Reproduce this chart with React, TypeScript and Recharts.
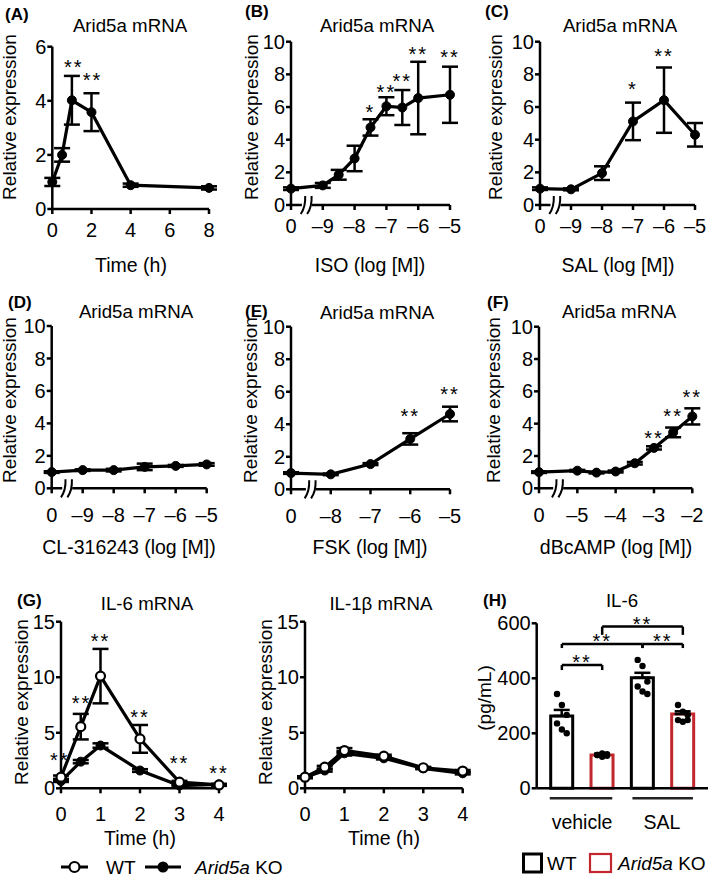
import React from 'react';
import {
  ComposedChart,
  Line,
  Bar,
  Scatter,
  XAxis,
  YAxis,
  ErrorBar,
  ReferenceDot,
  ReferenceLine,
  Cell,
} from 'recharts';

const FONT = "'Liberation Sans', Arial, Helvetica, sans-serif";
const PW = 709;
const PH = 876;
const YW = 40;
const XH = 30;
const RED = '#c1272d';

// ---------------- data ----------------
// (A) Arid5a mRNA time course
const timeA = [0, 0.5, 1, 2, 4, 8];
const arid5aTimeMean = [1.0, 2.0, 4.02, 3.58, 0.88, 0.78];
const arid5aTimeSem = [0.15, 0.25, 0.9, 0.7, 0.06, 0.06];
const starsA = [
  { x: 1.1, y: 5.4, t: '**' },
  { x: 2.05, y: 4.9, t: '**' },
];

// (B) ISO  (0 = vehicle)
const isoDose = [0, -9, -8.5, -8, -7.5, -7, -6.5, -6, -5];
const isoMean = [1.0, 1.2, 1.85, 2.85, 4.75, 6.05, 5.97, 6.55, 6.75];
const isoSem = [0.08, 0.15, 0.3, 0.78, 0.5, 0.55, 1.07, 2.22, 1.72];
const starsB = [
  { x: -7.5, y: 5.92, t: '*' },
  { x: -7, y: 7.14, t: '**' },
  { x: -6.5, y: 7.82, t: '**' },
  { x: -6, y: 9.49, t: '**' },
  { x: -5, y: 9.29, t: '**' },
];

// (C) SAL
const salDose = [0, -9, -8, -7, -6, -5];
const salMean = [1.0, 0.96, 1.95, 5.12, 6.42, 4.3];
const salSem = [0.08, 0.06, 0.42, 1.15, 2.0, 0.72];
const starsC = [
  { x: -7, y: 7.35, t: '*' },
  { x: -6, y: 9.39, t: '**' },
];

// (D) CL-316243
const clDose = [0, -9, -8, -7, -6, -5];
const clMean = [1.0, 1.12, 1.12, 1.32, 1.38, 1.47];
const clSem = [0.05, 0.05, 0.08, 0.2, 0.06, 0.08];

// (E) FSK
const fskDose = [0, -8, -7, -6, -5];
const fskMean = [1.0, 0.92, 1.55, 3.1, 4.63];
const fskSem = [0.05, 0.05, 0.06, 0.35, 0.45];
const starsE = [
  { x: -6, y: 4.77, t: '**' },
  { x: -5, y: 6.1, t: '**' },
];

// (F) dBcAMP
const dbDose = [0, -5, -4.5, -4, -3.5, -3, -2.5, -2];
const dbMean = [1.0, 1.09, 0.97, 1.04, 1.55, 2.5, 3.46, 4.45];
const dbSem = [0.05, 0.05, 0.05, 0.06, 0.08, 0.1, 0.3, 0.5];
const starsF = [
  { x: -3, y: 3.34, t: '**' },
  { x: -2.5, y: 4.74, t: '**' },
  { x: -2, y: 5.92, t: '**' },
];

// (G) IL-6 mRNA / IL-1β mRNA
const timeG = [0, 0.5, 1, 2, 3, 4];
const il6WtMean = [1.0, 5.55, 10.1, 4.45, 0.55, 0.3];
const il6WtSem = [0.15, 1.15, 2.45, 1.25, 0.12, 0.08];
const il6KoMean = [0.65, 2.4, 3.85, 1.6, 0.25, 0.35];
const il6KoSem = [0.08, 0.15, 0.2, 0.12, 0.05, 0.05];
const starsG = [
  { x: -0.03, y: 2.9, t: '**' },
  { x: 0.52, y: 8.0, t: '**' },
  { x: 1, y: 13.65, t: '**' },
  { x: 2, y: 6.75, t: '**' },
  { x: 3, y: 2.6, t: '**' },
  { x: 4, y: 1.7, t: '**' },
];
const il1bWtMean = [1.0, 1.9, 3.4, 2.9, 1.85, 1.55];
const il1bWtSem = [0.08, 0.12, 0.22, 0.12, 0.08, 0.1];
const il1bKoMean = [1.0, 1.6, 3.15, 2.7, 1.8, 1.35];
const il1bKoSem = [0.08, 0.1, 0.2, 0.1, 0.08, 0.1];

// (H) IL-6 protein
const hGroups = ['WT vehicle', 'KO vehicle', 'WT SAL', 'KO SAL'];
const hGenotype = ['WT', 'KO', 'WT', 'KO'];
const il6Mean = [263, 121, 402, 270];
const il6Sem = [22, 5, 18, 10];
const il6Points = [
  [343, 303, 267, 236, 214, 200],
  [121, 127, 118, 121, 115, 124],
  [467, 445, 388, 370, 352, 343],
  [303, 279, 267, 248, 242, 248],
];
const hBrackets = [
  { from: 0, to: 1, y: 448, drop: 18, t: '**' },
  { from: 0, to: 2, y: 525, drop: 15, t: '**' },
  { from: 2, to: 3, y: 525, drop: 15, t: '**' },
  { from: 1, to: 3, y: 588, drop: 30, t: '**' },
];
const hTreatments = [
  { label: 'vehicle', from: -0.3, to: 1.25 },
  { label: 'SAL', from: 1.75, to: 3.25 },
];

// ---------------- helpers ----------------
type Pt = { x: number; y: number; e: number };
const mk = (xs: number[], ys: number[], es: number[], zeroAt?: number): Pt[] =>
  xs.map((x, i) => ({ x: zeroAt !== undefined && x === 0 ? zeroAt : x, y: ys[i], e: es[i] }));

const dash = '\u2013';
const logFmt = (zeroAt: number) => (v: number) => (v === zeroAt ? '0' : dash + Math.abs(v));
const range = (a: number, b: number, s: number) => {
  const r: number[] = [];
  for (let v = a; v <= b + 1e-9; v += s) r.push(v);
  return r;
};

const AXIS = { stroke: '#000', strokeWidth: 2.5 };
const TICK = { fill: '#000', fontSize: 20, fontFamily: FONT };
const FILLED_DOT = { r: 4.5, fill: '#000', stroke: '#000', strokeWidth: 1 };
const OPEN_DOT = { r: 4.5, fill: '#fff', stroke: '#000', strokeWidth: 2.2 };

function StarText({ cx, cy, t, lift = 0 }: { cx: number; cy: number; t: string; lift?: number }) {
  return (
    <text
      x={cx}
      y={cy - lift + 11}
      textAnchor="middle"
      fontSize={20}
      fontFamily={FONT}
      fill="#000"
      letterSpacing={2}
    >
      {t}
    </text>
  );
}

function BreakShape(p: any) {
  const { cx, cy } = p;
  if (cx == null || cy == null) return <g />;
  return (
    <g>
      <rect x={cx - 5} y={cy - 3} width={10} height={6} fill="#fff" />
      {[-3.2, 3.2].map((d) => (
        <path
          key={d}
          d={`M ${cx + d - 3} ${cy + 9} Q ${cx + d + 2} ${cy + 2} ${cx + d + 1.5} ${cy - 9}`}
          stroke="#000"
          strokeWidth={2}
          fill="none"
        />
      ))}
    </g>
  );
}

type Series = { data: Pt[]; open?: boolean };
type PanelCfg = {
  x0: number;
  x1: number;
  y0: number;
  y1: number;
  xDomain: [number, number];
  xTicks: number[];
  xFmt: (v: number) => string;
  yMax: number;
  yTicks: number[];
  series: Series[];
  stars: { x: number; y: number; t: string }[];
  breakX?: number;
  tickGap: number;
};

function LinePanel(p: PanelCfg) {
  const margin = { left: p.x0 - YW, right: PW - p.x1, top: p.y0, bottom: PH - p.y1 - XH };
  return (
    <div style={{ position: 'absolute', left: 0, top: 0 }}>
      <ComposedChart width={PW} height={PH} margin={margin}>
        <XAxis
          type="number"
          dataKey="x"
          domain={p.xDomain}
          ticks={p.xTicks}
          tickFormatter={p.xFmt}
          interval={0}
          height={XH}
          axisLine={AXIS}
          tickLine={AXIS}
          tickSize={5}
          tickMargin={p.tickGap}
          tick={TICK}
        />
        <YAxis
          type="number"
          domain={[0, p.yMax]}
          ticks={p.yTicks}
          interval={0}
          width={YW}
          axisLine={AXIS}
          tickLine={AXIS}
          tickSize={5}
          tickMargin={1}
          tick={TICK}
        />
        {p.breakX !== undefined && (
          <ReferenceDot x={p.breakX} y={0} r={0} ifOverflow="visible" shape={BreakShape} />
        )}
        {p.series.map((s, i) => (
          <Line
            key={i}
            data={s.data}
            dataKey="y"
            type="linear"
            stroke="#000"
            strokeWidth={3.2}
            isAnimationActive={false}
            dot={s.open ? OPEN_DOT : FILLED_DOT}
            activeDot={false}
          >
            <ErrorBar dataKey="e" width={8} strokeWidth={2.5} stroke="#000" direction="y" />
          </Line>
        ))}
        {p.stars.map((s, i) => (
          <ReferenceDot
            key={'s' + i}
            x={s.x}
            y={s.y}
            r={0}
            ifOverflow="visible"
            shape={(sp: any) => <StarText cx={sp.cx} cy={sp.cy} t={s.t} />}
          />
        ))}
      </ComposedChart>
    </div>
  );
}

const y10 = range(0, 10, 2);
const panels: PanelCfg[] = [
  {
    x0: 52.3, x1: 209, y0: 46.7, y1: 209,
    xDomain: [0, 8], xTicks: [0, 2, 4, 6, 8], xFmt: (v) => String(v),
    yMax: 6, yTicks: [0, 2, 4, 6],
    series: [{ data: mk(timeA, arid5aTimeMean, arid5aTimeSem) }],
    stars: starsA, tickGap: 9,
  },
  {
    x0: 291, x1: 450, y0: 41.7, y1: 205,
    xDomain: [-10, -5], xTicks: range(-10, -5, 1), xFmt: logFmt(-10),
    yMax: 10, yTicks: y10,
    series: [{ data: mk(isoDose, isoMean, isoSem, -10) }],
    stars: starsB, breakX: -9.5, tickGap: 9,
  },
  {
    x0: 540, x1: 695, y0: 41.7, y1: 205,
    xDomain: [-10, -5], xTicks: range(-10, -5, 1), xFmt: logFmt(-10),
    yMax: 10, yTicks: y10,
    series: [{ data: mk(salDose, salMean, salSem, -10) }],
    stars: starsC, breakX: -9.5, tickGap: 9,
  },
  {
    x0: 51.7, x1: 206.7, y0: 326, y1: 488.3,
    xDomain: [-10, -5], xTicks: range(-10, -5, 1), xFmt: logFmt(-10),
    yMax: 10, yTicks: y10,
    series: [{ data: mk(clDose, clMean, clSem, -10) }],
    stars: [], breakX: -9.5, tickGap: 14,
  },
  {
    x0: 291, x1: 450, y0: 326.7, y1: 489.3,
    xDomain: [-9, -5], xTicks: range(-9, -5, 1), xFmt: logFmt(-9),
    yMax: 10, yTicks: y10,
    series: [{ data: mk(fskDose, fskMean, fskSem, -9) }],
    stars: starsE, breakX: -8.5, tickGap: 14,
  },
  {
    x0: 539, x1: 692.3, y0: 326.7, y1: 488.3,
    xDomain: [-6, -2], xTicks: range(-6, -2, 1), xFmt: logFmt(-6),
    yMax: 10, yTicks: y10,
    series: [{ data: mk(dbDose, dbMean, dbSem, -6) }],
    stars: starsF, breakX: -5.5, tickGap: 14,
  },
  {
    x0: 61, x1: 219, y0: 621.7, y1: 788.3,
    xDomain: [0, 4], xTicks: [0, 1, 2, 3, 4], xFmt: (v) => String(v),
    yMax: 15, yTicks: [0, 5, 10, 15],
    series: [
      { data: mk(timeG, il6KoMean, il6KoSem) },
      { data: mk(timeG, il6WtMean, il6WtSem), open: true },
    ],
    stars: starsG, tickGap: 13.5,
  },
  {
    x0: 305, x1: 462.7, y0: 621.7, y1: 788.3,
    xDomain: [0, 4], xTicks: [0, 1, 2, 3, 4], xFmt: (v) => String(v),
    yMax: 15, yTicks: [0, 5, 10, 15],
    series: [
      { data: mk(timeG, il1bKoMean, il1bKoSem) },
      { data: mk(timeG, il1bWtMean, il1bWtSem), open: true },
    ],
    stars: [], tickGap: 13.5,
  },
];

const hData = hGroups.map((g, i) => ({ g, v: il6Mean[i], e: [0, il6Sem[i]] }));
const hDots = il6Points.flatMap((arr, i) => arr.map((v, j) => ({ n: i + ((j % 3) - 1) * 0.12, v })));

function DotShape(p: any) {
  return <circle cx={p.cx} cy={p.cy} r={3.2} fill="#000" />;
}

function BarPanel() {
  const x0 = 536.7, x1 = 708, y0 = 623.3, y1 = 788.3;
  const margin = { left: x0 - YW, right: PW - x1, top: y0, bottom: PH - y1 - XH };
  const seg = { stroke: '#000', strokeWidth: 2.5, ifOverflow: 'visible' as const };
  return (
    <div style={{ position: 'absolute', left: 0, top: 0 }}>
      <ComposedChart width={PW} height={PH} margin={margin} data={hData}>
        <XAxis
          dataKey="g"
          type="category"
          padding={{ left: 5, right: 5 }}
          height={XH}
          axisLine={AXIS}
          tickLine={false}
          tick={false}
        />
        <XAxis xAxisId="n" type="number" dataKey="n" domain={[-0.5, 3.5]} padding={{ left: 5, right: 5 }} hide />
        <YAxis
          type="number"
          domain={[0, 600]}
          ticks={[0, 200, 400, 600]}
          interval={0}
          width={YW}
          axisLine={AXIS}
          tickLine={AXIS}
          tickSize={5}
          tickMargin={1}
          tick={TICK}
        />
        <Bar dataKey="v" barSize={22} fill="#fff" strokeWidth={3} isAnimationActive={false}>
          {hData.map((d, i) => (
            <Cell key={i} stroke={hGenotype[i] === 'WT' ? '#000' : RED} fill="#fff" />
          ))}
          <ErrorBar dataKey="e" width={8} strokeWidth={2.5} stroke="#000" direction="y" />
        </Bar>
        <Scatter xAxisId="n" data={hDots} dataKey="v" shape={DotShape} isAnimationActive={false} />
        {hBrackets.map((b, i) => (
          <ReferenceLine key={'bh' + i} xAxisId="n" segment={[{ x: b.from, y: b.y }, { x: b.to, y: b.y }]} {...seg} />
        ))}
        {hBrackets.map((b, i) => (
          <ReferenceLine key={'bl' + i} xAxisId="n" segment={[{ x: b.from, y: b.y }, { x: b.from, y: b.y - b.drop }]} {...seg} />
        ))}
        {hBrackets.map((b, i) => (
          <ReferenceLine key={'br' + i} xAxisId="n" segment={[{ x: b.to, y: b.y }, { x: b.to, y: b.y - b.drop }]} {...seg} />
        ))}
        {hBrackets.map((b, i) => (
          <ReferenceDot
            key={'bt' + i}
            xAxisId="n"
            x={(b.from + b.to) / 2}
            y={b.y}
            r={0}
            ifOverflow="visible"
            shape={(sp: any) => <StarText cx={sp.cx} cy={sp.cy} t={b.t} lift={7} />}
          />
        ))}
        {hTreatments.map((t, i) => (
          <ReferenceLine
            key={'tr' + i}
            xAxisId="n"
            segment={[{ x: t.from, y: -36 }, { x: t.to, y: -36 }]}
            stroke="#222"
            strokeWidth={2.5}
            ifOverflow="visible"
          />
        ))}
      </ComposedChart>
    </div>
  );
}

function Overlay() {
  const letters = [
    { x: 5, y: 14, t: '(A)' },
    { x: 245, y: 11, t: '(B)' },
    { x: 485, y: 11, t: '(C)' },
    { x: 8, y: 302, t: '(D)' },
    { x: 245, y: 311, t: '(E)' },
    { x: 487, y: 302, t: '(F)' },
    { x: 17, y: 600, t: '(G)' },
    { x: 483, y: 600, t: '(H)' },
  ];
  const titles = [
    { x: 130, y: 25, t: 'Arid5a mRNA' },
    { x: 377, y: 25, t: 'Arid5a mRNA' },
    { x: 620, y: 25, t: 'Arid5a mRNA' },
    { x: 136, y: 311, t: 'Arid5a mRNA' },
    { x: 377, y: 312, t: 'Arid5a mRNA' },
    { x: 619, y: 311, t: 'Arid5a mRNA' },
    { x: 147, y: 603, t: 'IL-6 mRNA' },
    { x: 381, y: 603, t: 'IL-1\u03b2 mRNA' },
    { x: 622, y: 600, t: 'IL-6' },
  ];
  const yLabels = [
    { x: 9, y: 117, t: 'Relative expression' },
    { x: 251, y: 117, t: 'Relative expression' },
    { x: 495, y: 117, t: 'Relative expression' },
    { x: 9, y: 400, t: 'Relative expression' },
    { x: 250, y: 400, t: 'Relative expression' },
    { x: 493, y: 400, t: 'Relative expression' },
    { x: 21, y: 702, t: 'Relative expression' },
    { x: 265, y: 702, t: 'Relative expression' },
    { x: 484, y: 698, t: '(pg/mL)' },
  ];
  const xLabels = [
    { x: 131, y: 265, t: 'Time (h)' },
    { x: 370, y: 265, t: 'ISO (log [M])' },
    { x: 618, y: 265, t: 'SAL (log [M])' },
    { x: 129, y: 547, t: 'CL-316243 (log [M])' },
    { x: 370, y: 547, t: 'FSK (log [M])' },
    { x: 616, y: 547, t: 'dBcAMP (log [M])' },
    { x: 140, y: 838, t: 'Time (h)' },
    { x: 384, y: 838, t: 'Time (h)' },
    { x: 582, y: 822, t: 'vehicle' },
    { x: 662, y: 822, t: 'SAL' },
  ];
  const base = { fontFamily: FONT, fill: '#000', dominantBaseline: 'central' as const };
  const gy = 867;
  const hy = 863;
  return (
    <svg
      width={PW}
      height={PH}
      style={{ position: 'absolute', left: 0, top: 0, pointerEvents: 'none' }}
    >
      {letters.map((l, i) => (
        <text key={'L' + i} x={l.x} y={l.y} fontSize={17} fontWeight="bold" {...base}>
          {l.t}
        </text>
      ))}
      {titles.map((l, i) => (
        <text key={'T' + i} x={l.x} y={l.y} fontSize={18.7} textAnchor="middle" {...base}>
          {l.t}
        </text>
      ))}
      {yLabels.map((l, i) => (
        <text
          key={'Y' + i}
          x={l.x}
          y={l.y}
          fontSize={19}
          textAnchor="middle"
          transform={`rotate(-90 ${l.x} ${l.y})`}
          {...base}
        >
          {l.t}
        </text>
      ))}
      {xLabels.map((l, i) => (
        <text key={'X' + i} x={l.x} y={l.y} fontSize={19.5} textAnchor="middle" {...base}>
          {l.t}
        </text>
      ))}
      {/* legend G */}
      <line x1={61} x2={88} y1={gy} y2={gy} stroke="#000" strokeWidth={3} />
      <circle cx={74.5} cy={gy} r={5} fill="#fff" stroke="#000" strokeWidth={2.2} />
      <text x={106} y={gy} fontSize={19} {...base}>WT</text>
      <line x1={145} x2={181} y1={gy} y2={gy} stroke="#000" strokeWidth={3} />
      <circle cx={163} cy={gy} r={5.5} fill="#000" />
      <text x={195} y={gy} fontSize={19} {...base}>
        <tspan fontStyle="italic">Arid5a</tspan> KO
      </text>
      {/* legend H */}
      <rect x={523.5} y={hy - 9} width={18} height={18} fill="#fff" stroke="#000" strokeWidth={3} />
      <text x={547} y={hy} fontSize={19} {...base}>WT</text>
      <rect x={590} y={hy - 9} width={21} height={18} fill="#fff" stroke={RED} strokeWidth={2.2} />
      <text x={618} y={hy} fontSize={19} {...base}>
        <tspan fontStyle="italic">Arid5a</tspan> KO
      </text>
    </svg>
  );
}

export default function App() {
  return (
    <div
      style={{
        position: 'absolute',
        left: 0,
        top: 0,
        width: PW,
        height: PH,
        background: '#fff',
        overflow: 'hidden',
      }}
    >
      {panels.map((p, i) => (
        <LinePanel key={i} {...p} />
      ))}
      <BarPanel />
      <Overlay />
    </div>
  );
}
